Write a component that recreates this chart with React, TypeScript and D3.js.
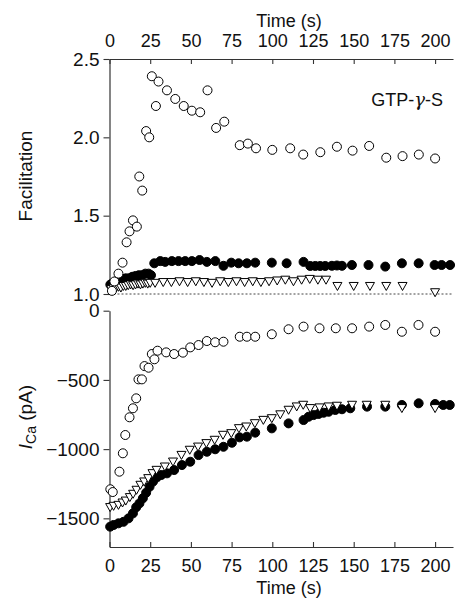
import { useEffect, useRef } from 'react';
import * as d3 from 'd3';

// [time (s), facilitation]
const facOpen: [number, number][] = [
  [1.5, 1.02], [3, 1.08], [5.5, 1.13], [8, 1.2], [10.5, 1.33], [12.3, 1.4], [14.4, 1.47], [16.8, 1.43],
  [18.3, 1.75], [20.1, 1.66], [22.5, 2.04], [24.4, 2.0], [26, 2.39], [28.5, 2.2], [30.1, 2.356],
  [35.3, 2.3], [40.4, 2.245], [45.6, 2.2], [50.6, 2.17], [55.7, 2.16], [60.2, 2.3], [65.5, 2.06],
  [70.5, 2.1], [80, 1.95], [85, 1.96], [90, 1.93], [100, 1.92], [111, 1.93], [119, 1.89],
  [129.5, 1.905], [139.7, 1.94], [149.3, 1.915], [159.5, 1.945], [170, 1.87], [180, 1.88],
  [190, 1.89], [200, 1.865],
];

const facFilled: [number, number][] = [
  [0.5, 1.06], [2, 1.07], [4, 1.08], [6, 1.09], [8, 1.095], [10, 1.1], [12, 1.1], [14, 1.11],
  [16, 1.115], [18, 1.12], [20, 1.12], [22, 1.13], [24, 1.13], [25.5, 1.12],
  [27.5, 1.196], [31.2, 1.21], [34.2, 1.205], [38.3, 1.21], [42.4, 1.21], [46.5, 1.21], [50.6, 1.21],
  [55.3, 1.217], [59.8, 1.205], [65, 1.21], [70, 1.18], [74.8, 1.2], [79.3, 1.196], [84.4, 1.196],
  [89.5, 1.2], [99.7, 1.2], [108.8, 1.196], [119.2, 1.205], [123.3, 1.179], [126.4, 1.179],
  [129.4, 1.179], [132.5, 1.179], [136.6, 1.18], [139.7, 1.182], [142.8, 1.18], [148.9, 1.185],
  [159.1, 1.185], [169.4, 1.175], [179.6, 1.196], [189.9, 1.196], [199.7, 1.185], [204, 1.185],
  [209.2, 1.185],
];

const facTri: [number, number][] = [
  [1, 1.03], [2.5, 1.035], [4, 1.04], [5.5, 1.045], [7, 1.04], [8.5, 1.05], [10, 1.05], [11.5, 1.055],
  [13, 1.06], [14.5, 1.055], [16, 1.06], [17.5, 1.065], [19, 1.06], [20.5, 1.065], [22, 1.07],
  [23.5, 1.065], [25, 1.07], [28, 1.07], [33, 1.075], [38, 1.075], [43, 1.08], [48, 1.075],
  [53, 1.08], [58, 1.075], [63, 1.07], [68, 1.08], [73, 1.075], [78, 1.08], [83, 1.075], [88, 1.08],
  [93, 1.075], [98, 1.08], [103, 1.085], [108, 1.09], [113, 1.08], [118, 1.09], [123, 1.095],
  [128, 1.09], [133, 1.09], [140, 1.05], [150, 1.05], [160, 1.05], [170, 1.05], [180, 1.05],
  [200, 1.01],
];

// [time (s), I_Ca (pA)]
const icaOpen: [number, number][] = [
  [0.5, -1290], [2, -1310], [6.1, -1163], [8.2, -1030], [9.7, -898], [12.3, -770], [14.4, -705],
  [16.4, -633], [17.8, -496], [19.9, -496], [21.5, -400], [24, -412], [26, -313], [27.6, -351],
  [29.5, -289], [34.8, -301], [39.7, -313], [45.1, -303], [49.6, -265], [54.7, -248], [59.8, -219],
  [64.9, -228], [70, -224], [80, -188], [84.4, -188], [89.5, -188], [99.7, -170], [110, -134],
  [119.2, -115], [129, -127], [139, -127], [149, -127], [159.5, -115], [169.4, -103], [179.6, -152],
  [189.8, -103], [200, -152],
];

const icaFilled: [number, number][] = [
  [0.4, -1560], [2.5, -1548], [5.5, -1536], [8.6, -1525], [11.7, -1500], [14.4, -1464], [16.4, -1420],
  [18.4, -1392], [20.5, -1355], [22.5, -1315], [24.6, -1272], [26.7, -1235], [29.1, -1204],
  [31.8, -1187], [35.3, -1175], [39.7, -1151], [44.5, -1115], [49.6, -1091], [54.7, -1043],
  [59.8, -1019], [64.9, -1001], [70, -983], [75.2, -954], [79.9, -915], [84.4, -910], [89.5, -881],
  [99.7, -850], [110, -814], [119.2, -790], [122.3, -766], [125.3, -754], [128.4, -746],
  [131.5, -737], [134.6, -730], [138.7, -717], [142.8, -712], [147.9, -705], [158.2, -693],
  [169.4, -693], [179.6, -681], [189.9, -669], [200, -674], [205, -681], [209, -681],
];

const icaTri: [number, number][] = [
  [0.4, -1420], [2.5, -1411], [5.5, -1404], [8, -1387], [10, -1373], [12.5, -1348], [14.5, -1324],
  [16.6, -1295], [19, -1259], [21.3, -1235], [23.8, -1211], [26.4, -1175], [28.9, -1151],
  [34, -1127], [39, -1091], [44.2, -1043], [49.3, -1006], [54.4, -983], [59.5, -958], [64.6, -934],
  [69.7, -898], [74.8, -886], [79.5, -850], [84, -838], [89.3, -814], [94.5, -790], [99.7, -778],
  [104.9, -750], [110, -717], [115, -693], [119, -681], [123.3, -705], [129, -700], [134.6, -693],
  [139.7, -688], [149, -681], [158, -681], [169.4, -681], [179.6, -705], [200, -705],
];

const timeTicks = [0, 25, 50, 75, 100, 125, 150, 175, 200];
const facTicks = [1.0, 1.5, 2.0, 2.5];
const icaTicks = [0, -500, -1000, -1500];

const FONT = "'Liberation Sans', Arial, Helvetica, sans-serif";

const App = () => {
  const svgRef = useRef<SVGSVGElement>(null);

  useEffect(() => {
    const width = 458;
    const height = 600;
    const svg = d3.select(svgRef.current);
    svg.selectAll('*').remove();
    svg.attr('width', width).attr('height', height);

    const x = d3.scaleLinear().domain([0, 211]).range([109.5, 453]);
    const yF = d3.scaleLinear().domain([1.0, 2.5]).range([294, 59]);
    const yI = d3.scaleLinear().domain([-1707, 0]).range([547, 310.7]);

    const styleAxis = (g: any, size: number) => {
      g.select('.domain').attr('stroke', '#333').attr('stroke-width', 1.2);
      g.selectAll('.tick line').attr('stroke', '#333').attr('stroke-width', 1.1);
      g.selectAll('text').attr('font-family', FONT).attr('font-size', size).attr('fill', '#111');
      g.attr('font-family', null).attr('font-size', null);
    };

    // top time axis
    svg.append('g')
      .attr('transform', `translate(0,${yF(2.5)})`)
      .call(d3.axisTop(x).tickValues(timeTicks).tickSizeInner(-5).tickSizeOuter(0).tickPadding(12))
      .call(g => styleAxis(g, 18));

    // bottom time axis
    svg.append('g')
      .attr('transform', `translate(0,${yI(-1707)})`)
      .call(d3.axisBottom(x).tickValues(timeTicks).tickSizeInner(-5).tickSizeOuter(0).tickPadding(12))
      .call(g => styleAxis(g, 18));

    svg.append('g')
      .attr('transform', `translate(${x(0)},0)`)
      .call(d3.axisLeft(yF).tickValues(facTicks).tickFormat(d3.format('.1f')).tickSizeInner(6).tickSizeOuter(0).tickPadding(4))
      .call(g => styleAxis(g, 19));

    svg.append('g')
      .attr('transform', `translate(${x(0)},0)`)
      .call(d3.axisLeft(yI).tickValues(icaTicks).tickFormat(d3.format('d')).tickSizeInner(6).tickSizeOuter(0).tickPadding(4))
      .call(g => styleAxis(g, 19));

    // baseline at facilitation 1.0
    svg.append('line')
      .attr('x1', x(0)).attr('x2', x(211))
      .attr('y1', yF(1.0)).attr('y2', yF(1.0))
      .attr('stroke', '#444').attr('stroke-width', 1)
      .attr('stroke-dasharray', '2,2');

    const tri = 'M-4.5,-3.7L4.5,-3.7L0,4.3Z';

    const drawPanel = (y: d3.ScaleLinear<number, number>, filled: [number, number][], tris: [number, number][], open: [number, number][]) => {
      const g = svg.append('g');
      g.selectAll(null).data(filled).join('circle')
        .attr('cx', d => x(d[0])).attr('cy', d => y(d[1])).attr('r', 4.5)
        .attr('fill', '#000').attr('stroke', '#000');
      g.selectAll(null).data(tris).join('path')
        .attr('d', tri)
        .attr('transform', d => `translate(${x(d[0])},${y(d[1])})`)
        .attr('fill', '#fff').attr('stroke', '#000').attr('stroke-width', 1);
      g.selectAll(null).data(open).join('circle')
        .attr('cx', d => x(d[0])).attr('cy', d => y(d[1])).attr('r', 4.5)
        .attr('fill', '#fff').attr('stroke', '#000').attr('stroke-width', 1);
    };

    drawPanel(yF, facFilled, facTri, facOpen);
    drawPanel(yI, icaFilled, icaTri, icaOpen);

    // titles
    const text = (tx: number, ty: number, s: string, size: number) =>
      svg.append('text').attr('x', tx).attr('y', ty).attr('text-anchor', 'middle')
        .attr('font-family', FONT).attr('font-size', size).attr('fill', '#111').text(s);

    text(289, 27, 'Time (s)', 18);
    text(289, 594, 'Time (s)', 18);

    const gtp = svg.append('text').attr('x', 443).attr('y', 106).attr('text-anchor', 'end')
      .attr('font-family', FONT).attr('font-size', 18).attr('fill', '#111');
    gtp.append('tspan').text('GTP-');
    gtp.append('tspan').attr('font-family', "'DejaVu Serif', serif").attr('font-style', 'italic').text('γ');
    gtp.append('tspan').text('-S');

    svg.append('text')
      .attr('transform', `translate(32,176) rotate(-90)`)
      .attr('text-anchor', 'middle')
      .attr('font-family', FONT).attr('font-size', 19).attr('fill', '#111')
      .text('Facilitation');

    const ica = svg.append('text')
      .attr('transform', `translate(32,417) rotate(-90)`)
      .attr('text-anchor', 'middle')
      .attr('font-family', FONT).attr('font-size', 19).attr('fill', '#111');
    ica.append('tspan').attr('font-style', 'italic').text('I');
    ica.append('tspan').attr('font-size', 14).attr('dy', 4).text('Ca');
    ica.append('tspan').attr('dy', -4).text(' (pA)');
  }, []);

  return <svg ref={svgRef} style={{ position: 'absolute', left: 0, top: 0 }}></svg>;
};

export default App;
